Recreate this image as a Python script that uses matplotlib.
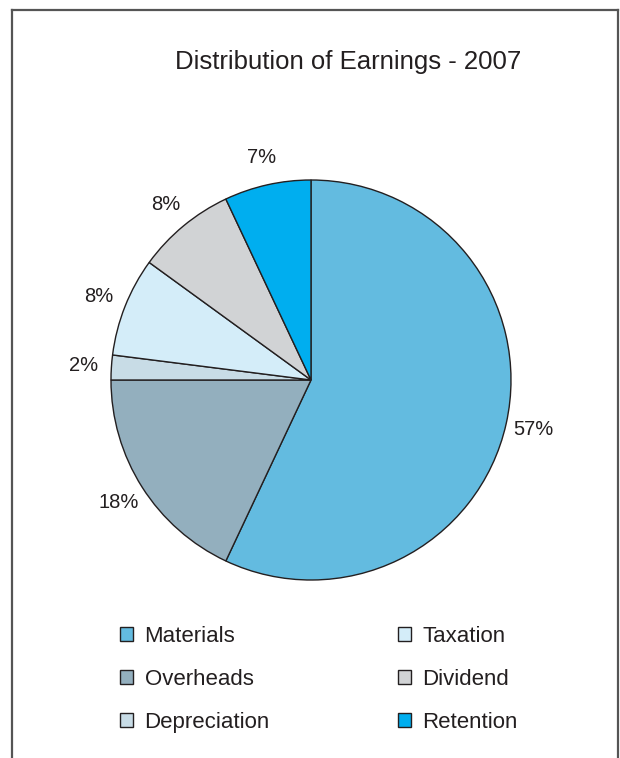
import matplotlib.pyplot as plt
from matplotlib.lines import Line2D
import matplotlib.patches as mpatches

categories = ['Materials', 'Overheads', 'Depreciation', 'Taxation', 'Dividend', 'Retention']
shares = [57, 18, 2, 8, 8, 7]
colors = ['#63BBE0', '#93AFBE', '#C8DCE6', '#D4EDF9', '#D1D3D5', '#00AEEF']
title = 'Distribution of Earnings - 2007'

plt.rcParams['font.family'] = ['Liberation Sans', 'DejaVu Sans']

W, H = 620, 758
fig = plt.figure(figsize=(W / 100, H / 100), dpi=100, facecolor='white')

# pie axes: centre (311, 380), radius 200 px
cx, cy, r = 311, 380, 200
ax = fig.add_axes([(cx - r) / W, (H - cy - r) / H, 2 * r / W, 2 * r / H])
ax.pie(shares, colors=colors, startangle=90, counterclock=False,
       labels=[f'{v}%' for v in shares], labeldistance=1.14,
       wedgeprops=dict(edgecolor='#231f20', linewidth=1.0),
       textprops=dict(fontsize=14.5, color='#231f20'))
for t in ax.texts:
    t.set_ha('center')
    t.set_va('center')
ax.set_xlim(-1, 1)
ax.set_ylim(-1, 1)
ax.set_aspect('equal')
ax.axis('off')

# title
fig.text(348 / W, 1 - 62 / H, title, ha='center', va='center', fontsize=18.5,
         color='#231f20', family=['Liberation Sans Narrow', 'Liberation Sans'])

# frame (open at the bottom)
frame_kw = dict(color='#555555', linewidth=1.6, transform=fig.transFigure)
x0, x1, y0 = 12 / W, 618 / W, 1 - 10 / H
fig.add_artist(Line2D([x0, x0], [0, y0], **frame_kw))
fig.add_artist(Line2D([x0, x1], [y0, y0], **frame_kw))
fig.add_artist(Line2D([x1, x1], [y0, 0], **frame_kw))

# legend
handles = [mpatches.Patch(facecolor=c, edgecolor='#231f20', linewidth=1.0, label=n)
           for n, c in zip(categories, colors)]
fig.legend(handles=handles, ncol=2, loc='upper left', bbox_to_anchor=(109 / W, 1 - 615 / H),
           frameon=False, fontsize=16, handlelength=0.6, handleheight=0.6,
           handletextpad=0.5, labelspacing=0.98, columnspacing=5.75, borderpad=0,
           labelcolor='#231f20')

fig.savefig('out.png', dpi=100, facecolor='white')
